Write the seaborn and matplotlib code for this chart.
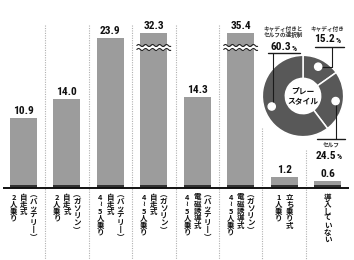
import matplotlib
matplotlib.use("Agg")
import matplotlib.pyplot as plt
import seaborn as sns
import numpy as np
import pandas as pd

# ---------------- data ----------------
bar_ids = ["b1", "b2", "b3", "b4", "b5", "b6", "b7", "b8"]
bar_values = [10.9, 14.0, 23.9, 32.3, 14.3, 35.4, 1.2, 0.6]
bar_label_columns = [
    ["(バッテリー)", "自走式", "2人乗り"],
    ["(ガソリン)", "自走式", "2人乗り"],
    ["(バッテリー)", "自走式", "4~5人乗り"],
    ["(ガソリン)", "自走式", "4~5人乗り"],
    ["(バッテリー)", "電磁誘導式", "4~5人乗り"],
    ["(ガソリン)", "電磁誘導式", "4~5人乗り"],
    ["立ち乗り式", "1人乗り"],
    ["導入していない"],
]
pie_names = ["キャディ付き", "セルフ", "キャディ付きと\nセルフの選択制"]
pie_values = [15.2, 24.5, 60.3]
pie_center_text = "プレー\nスタイル"

# ---------------- style ----------------
sns.set_theme(style="white")
JP = ["Noto Sans CJK JP", "DejaVu Sans"]
NUM = ["Roboto Condensed", "Liberation Sans Narrow", "Liberation Sans", "DejaVu Sans"]
plt.rcParams["font.family"] = JP

W, H = 354, 260
PX = 6.15            # pixels per data unit
BASE_Y = 188         # baseline pixel row
STEP = 43.43         # pixels between bar centers
X0 = 23.5            # pixel x of first bar
CAP = 24.7           # drawn height of broken bars
BASE = 0.55          # dark foot of bars
BAR_GRAY = "#9c9c9c"
FOOT = "#333333"
RING = "#585858"
INK = "#111111"

fig = plt.figure(figsize=(W / 100, H / 100), dpi=100)
ax = fig.add_axes([0, 0, 1, 1])

shown = [min(v, CAP) for v in bar_values]
df = pd.DataFrame({"id": bar_ids, "h": [BASE + s for s in shown], "foot": [BASE] * len(bar_ids)})
sns.barplot(data=df, x="id", y="h", order=bar_ids, color=BAR_GRAY, saturation=1,
            width=0.62, linewidth=0, ax=ax, errorbar=None)
sns.barplot(data=df, x="id", y="foot", order=bar_ids, color=FOOT, saturation=1,
            width=0.62, linewidth=0, ax=ax, errorbar=None)

ax.set_xlim(-X0 / STEP, (W - X0) / STEP)
ax.set_ylim(-(H - BASE_Y) / PX, BASE_Y / PX)
ax.axis("off")


def px2d(xp, yp):
    return (xp - X0) / STEP, (BASE_Y - yp) / PX


# baseline
xa, _ = px2d(3, 0)
xb, _ = px2d(349, 0)
ax.plot([xa, xb], [0, 0], color=INK, lw=1.4, solid_capstyle="butt", zorder=5)

# dotted separators
sep_tops = [25, 25, 25, 25, 25, 128, 150]
for k, top in enumerate(sep_tops):
    _, yt = px2d(0, top)
    _, yb = px2d(0, H)
    ax.plot([k + 0.5, k + 0.5], [yt, yb], color="#b0b0b0", lw=0.8,
            linestyle=(0, (1, 1.2)), zorder=1)

# value labels and break marks
for i, (v, s) in enumerate(zip(bar_values, shown)):
    ax.annotate(f"{v:.1f}", (i, BASE + s), xytext=(0, 1.4), textcoords="offset points",
                ha="center", va="bottom", fontsize=8.2, fontweight="bold",
                family=NUM, fontstretch="condensed", color=INK)
    if v > CAP:
        half = 0.31 + 3.5 / STEP
        xs = np.linspace(i - half, i + half, 120)
        wave = 1.0 * np.sin((xs - (i - half)) * STEP / 7.0 * 2 * np.pi) / PX
        _, y_up = px2d(0, 45.5)
        _, y_lo = px2d(0, 49.5)
        ax.fill_between(xs, y_lo + wave, y_up + wave, color="white", zorder=6, lw=0)
        ax.plot(xs, y_up + wave, color="#222222", lw=0.8, zorder=7)
        ax.plot(xs, y_lo + wave, color="#222222", lw=0.8, zorder=7)

# vertical category labels
vmap = {"(": "︵", ")": "︶", "ー": "丨", "~": "≀"}
pitch = {"(": 4.6, ")": 6.0}
for i, cols in enumerate(bar_label_columns):
    n = len(cols)
    gap = 10.0 if n == 3 else 11.0
    offsets = [(n - 1) / 2 * gap - j * gap for j in range(n)]
    for col, off in zip(cols, offsets):
        yp = 193.0
        for ch in col:
            p = pitch.get(ch, 7.0)
            shift = 1.2 if ch == ")" else (-0.6 if ch == "(" else 0.0)
            xd, yd = px2d(X0 + i * STEP + off, yp + p / 2 + shift)
            ax.text(xd, yd, vmap.get(ch, ch), ha="center", va="center_baseline",
                    fontsize=5.4, fontweight="bold", family=JP, color=INK)
            yp += p

# ---------------- donut ----------------
CX, CY, R = 303, 96, 41.5
pax = fig.add_axes([(CX - R) / W, (H - CY - R) / H, 2 * R / W, 2 * R / H])
pax.pie(pie_values, startangle=90, counterclock=False, colors=[RING] * len(pie_values),
        radius=1.0, wedgeprops=dict(width=1 - 18 / R, edgecolor="white", linewidth=1.1))
pax.set_xlim(-1.02, 1.02)
pax.set_ylim(-1.02, 1.02)
pax.set_aspect("equal")
pax.axis("off")
c1, c2 = pie_center_text.split("\n")
pax.text(0, 0.11, c1, ha="center", va="center", color=INK,
         fontsize=5.6, fontweight="bold", family=JP)
pax.text(0, -0.14, c2, ha="center", va="center", color=INK,
         fontsize=5.6, fontweight="bold", family=JP)

# overlay in pixel space for callouts
ov = fig.add_axes([0, 0, 1, 1])
ov.set_xlim(0, W)
ov.set_ylim(H, 0)
ov.axis("off")

# dot positions from wedge mid-angles
angles = []
start = 90.0
for v in pie_values:
    sweep = v / sum(pie_values) * 360
    angles.append(start - sweep / 2)
    start -= sweep
dots = [(CX + 33 * np.cos(np.radians(a)), CY - 33 * np.sin(np.radians(a))) for a in angles]
LC = "#1a1a1a"
SMALL = dict(ha="center", va="center", fontsize=4.1, fontweight="bold", family=JP, color="#333333")

# キャディ付き 15.2
d = dots[0]
ov.plot([d[0], 332, 332], [d[1], d[1], 46.7], color=LC, lw=0.8)
ov.plot([315, 344], [46.7, 46.7], color=LC, lw=1.0)
ov.text(327, 29, pie_names[0], **SMALL)
# セルフ 24.5
d = dots[1]
ov.plot([336, 336], [d[1], 139], color=LC, lw=0.8)
ov.plot([317, 345], [139, 139], color=LC, lw=1.0)
ov.text(331, 144.5, pie_names[1], **SMALL)
# 選択制 60.3
d = dots[2]
ov.plot([272.5, 272.5], [d[1], 52.7], color=LC, lw=0.8)
ov.plot([268, 300], [52.7, 52.7], color=LC, lw=1.0)
n1, n2 = pie_names[2].split("\n")
ov.text(283, 28.8, n1, **SMALL)
ov.text(283, 34.5, n2, **SMALL)

for (x, y) in dots:
    ov.add_patch(plt.Circle((x, y), 3.6, color="white", zorder=5))

# percent labels
pct_pos = {0: (335, 39.5), 1: (336, 156), 2: (291, 47.5)}
for k, (xr, yc) in pct_pos.items():
    ov.text(xr, yc, f"{pie_values[k]:.1f}", ha="right", va="center", fontsize=8.2,
            fontweight="bold", family=NUM, fontstretch="condensed", color=INK)
    ov.text(xr + 0.3, yc + 0.8, "%", ha="left", va="center", fontsize=5.8,
            fontweight="bold", family=NUM, fontstretch="condensed", color=INK)

fig.savefig("out.png", dpi=100, facecolor="white")
